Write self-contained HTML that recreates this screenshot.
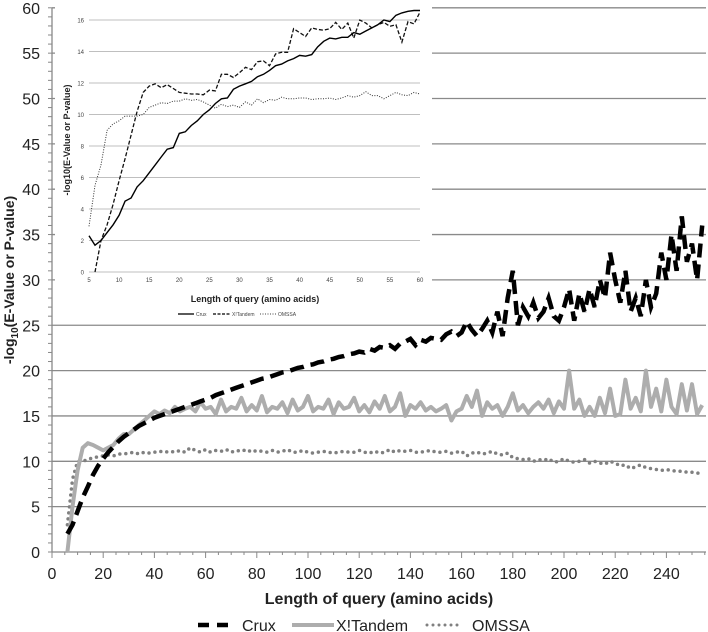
<!DOCTYPE html>
<html><head><meta charset="utf-8"><style>
html,body{margin:0;padding:0;background:#fff;}
svg{display:block;font-family:"Liberation Sans",sans-serif;}
</style></head><body>
<svg id="c" width="708" height="632" viewBox="0 0 708 632"></svg>
<script>
const mainX = [];
for (let i = 6; i <= 254; i += 2) mainX.push(i);
const cruxMain = [2,3,4.5,6,7.2,8.5,9.5,10.3,11,11.6,12.2,12.7,13.1,13.5,13.9,14.2,14.5,14.8,15,15.2,15.4,15.6,15.8,16,16.2,16.4,16.6,16.8,17,17.3,17.5,17.7,17.9,18.1,18.3,18.5,18.7,18.9,19.1,19.2,19.4,19.6,19.8,19.9,20.1,20.3,20.4,20.6,20.7,20.9,21,21.2,21.3,21.5,21.6,21.8,21.9,22.1,22,22.4,22.2,22.6,22.5,22.8,22.4,23,23.2,23.5,22.8,23.4,23.2,23.6,23.5,23.4,24,24.3,23.8,24.2,25.4,24.5,23.8,24.6,25.5,24.2,26.5,23.8,28,31,25,27,26,27.5,25.8,26.5,28,26,25.5,27,29,25.5,28.5,26.5,29,27,30,28,33,30,27.5,31,26.5,28,26,30,27,28.5,33,30,35,31,37,32,34,30,36];
const tandemMain = [0,5,9,11.5,12,11.8,11.5,11.2,11.5,11.8,12.5,13,13,13.5,14,14.5,15,15.5,15.2,15.6,15.3,16,15.5,15.8,16,15.5,16.5,15.8,16,15.2,16.8,15.5,16,15.8,17,15.5,16.2,15.6,17.2,15.4,16,15.8,16.5,15.3,16.8,15.6,16,17.2,15.5,16,15.8,16.8,15.2,16.5,15.8,16,17,15.5,16.2,15.4,16.6,15.8,17.2,15.5,16,17.5,15,16.2,15.8,16.5,15.6,16,15.5,15.8,16.2,14.5,15.5,15.8,17.2,16,17.8,15,16.5,15.8,16.2,15,16,17.5,15.6,16.2,15.3,16,16.5,15.8,16.8,15.3,16.6,15.8,20,15.8,16.8,15,16,15,17,15.3,18,15,15.2,19,15.8,17,15.5,20,16,18,15.5,19,16,15.2,18.5,15.6,18.5,15.2,16.2];
const omssaMain = [3,8,10,10,10.2,10.4,10.5,10.6,10.7,10.6,10.8,10.8,10.9,11,10.8,11,10.9,11,11.1,11,11.1,11,11.2,11,11.5,11.2,11,11.3,11,11.2,11.1,11.3,11,11.2,11.1,11.3,11,11.2,11.1,11,11.2,11,11.1,11.3,11,11,11.2,11,10.9,11,11.1,11,10.9,11,11.1,11,11,11.2,11,10.9,11.1,10.9,11,11.3,11,11.2,11.1,11.2,11,11,11.1,11.2,11,11,11.1,10.9,11,11.1,10.6,10.9,11,10.8,10.9,11.1,10.8,10.7,10.9,10.4,10.3,10.2,10.3,10,10.2,10.1,10.3,9.9,10,10.3,10,9.9,10,10.2,9.8,10,9.8,9.7,10,9.8,9.5,9.6,9.2,9.4,9.6,9.3,9.2,9.1,9,9.1,9,8.9,8.9,8.8,8.8,8.7,8.7];
const mainYTicks = [0,5,10,15,20,25,30,35,40,45,50,55,60];
const mainXTicks = [0,20,40,60,80,100,120,140,160,180,200,220,240];

const insetX = [];
for (let i = 5; i <= 60; i++) insetX.push(i);
const cruxInset = [2.3,1.7,2,2.5,3,3.6,4.5,4.7,5.4,5.8,6.3,6.8,7.3,7.8,7.9,8.8,8.9,9.3,9.6,10,10.3,10.7,11,11.05,11.6,11.8,11.95,12.1,12.4,12.55,12.8,13.1,13.2,13.4,13.55,13.75,13.7,13.8,14.3,14.65,14.85,14.8,14.9,14.9,15.2,15.1,15.3,15.5,15.7,16,15.9,16.3,16.45,16.55,16.6,16.6];
const tandemInset = [null,0,2,3,4.3,5.8,7.2,8.7,10.2,11.4,11.8,11.95,11.7,11.9,11.65,11.4,11.35,11.3,11.3,11.25,11.55,11.5,12.55,12.55,12.35,12.65,13,12.85,13.35,13.4,13.1,13.85,13.95,13.95,15.45,15.2,14.95,15.5,15.4,15.35,15.45,15.85,15.4,15.8,14.85,16,15.8,15.5,15.7,15.85,15.6,15.7,14.6,15.9,15.75,16.5];
const omssaInset = [2.9,5.5,6.8,9,9.4,9.6,9.9,9.9,9.9,10,10.45,10.6,10.75,10.7,10.85,10.85,11,10.9,10.95,10.8,10.6,10.4,10.65,10.5,10.6,10.45,10.8,10.6,11,10.75,10.95,10.9,11.1,11,11,11.05,11.05,10.95,11,11,11.05,10.95,11.05,11.2,11.1,11.2,11.45,11.2,11.2,11,11.2,11.4,11.25,11.2,11.4,11.3];
const insetYTicks = [0,2,4,6,8,10,12,14,16];
const insetXTicks = [5,10,15,20,25,30,35,40,45,50,55,60];

const NS = "http://www.w3.org/2000/svg";
const svg = document.getElementById('c');
function mk(tag, attrs, parent, text) {
  const e = document.createElementNS(NS, tag);
  for (const k in attrs) e.setAttribute(k, attrs[k]);
  if (text !== undefined) e.textContent = text;
  (parent || svg).appendChild(e);
  return e;
}
const mx = v => 52 + v * 2.56;
const my = v => 552 - v * 9.07;

const grid = mk('g', {});


mainYTicks.forEach(t => {
  if (t > 0) mk('line', {x1: 52, x2: 706, y1: my(t), y2: my(t), stroke: '#8a8a8a', 'stroke-width': 1.3}, grid);
  const lb = mk('text', {x: 40, y: my(t) + 6, 'text-anchor': 'end', 'font-size': 16, fill: '#222'}, null, String(t));
  
  
});
for (let v = 0; v <= 60; v++) mk('line', {x1: 48, x2: 52, y1: my(v), y2: my(v), stroke: '#888', 'stroke-width': 1}, grid);
mk('line', {x1: 52, x2: 52, y1: 8, y2: 552, stroke: '#888', 'stroke-width': 1.3}, grid);
mk('line', {x1: 52, x2: 706, y1: 552, y2: 552, stroke: '#888', 'stroke-width': 1.3}, grid);
for (let v = 0; v <= 255; v += 5) mk('line', {x1: mx(v), x2: mx(v), y1: 552, y2: v % 20 === 0 ? 558 : 555, stroke: '#888', 'stroke-width': 1}, grid);
mainXTicks.forEach(t => {
  const lb = mk('text', {x: mx(t), y: 579, 'text-anchor': 'middle', 'font-size': 16, fill: '#222'}, null, String(t));
  
  
});

function path(xs, ys, fx, fy) {
  let d = '', pen = false;
  xs.forEach((x, i) => {
    if (ys[i] === null) { pen = false; return; }
    d += (pen ? 'L' : 'M') + fx(x).toFixed(1) + ',' + fy(ys[i]).toFixed(1);
    pen = true;
  });
  return d;
}
const pO = mk('path', {d: path(mainX, omssaMain, mx, my), fill: 'none', stroke: '#808080', 'stroke-width': 3.5, 'stroke-linecap': 'round', 'stroke-dasharray': '0 6'});


const pT = mk('path', {d: path(mainX, tandemMain, mx, my), fill: 'none', stroke: '#adadad', 'stroke-width': 4, 'stroke-linejoin': 'round'});


const pC = mk('path', {d: path(mainX, cruxMain, mx, my), fill: 'none', stroke: '#000', 'stroke-width': 4.5, 'stroke-dasharray': '14 7'});



const yt = mk('text', {x: 0, y: 0, transform: 'translate(14,280) rotate(-90)', 'text-anchor': 'middle', 'font-size': 14, 'font-weight': 'bold', fill: '#222'});


yt.innerHTML = '-log<tspan font-size="10" dy="4">10</tspan><tspan dy="-4">(E-Value or P-value)</tspan>';
const xt = mk('text', {x: 379, y: 604, 'text-anchor': 'middle', 'font-size': 16, 'font-weight': 'bold', fill: '#222'}, null, 'Length of query (amino acids)');



const leg = mk('g', {});


mk('line', {x1: 198, x2: 234, y1: 625, y2: 625, stroke: '#000', 'stroke-width': 4.5, 'stroke-dasharray': '11 8'}, leg);
mk('text', {x: 242, y: 631, 'font-size': 16, fill: '#222'}, leg, 'Crux');
mk('line', {x1: 292, x2: 334, y1: 625, y2: 625, stroke: '#adadad', 'stroke-width': 4}, leg);
mk('text', {x: 336, y: 631, 'font-size': 16, fill: '#222'}, leg, 'X!Tandem');
mk('line', {x1: 427, x2: 463, y1: 625, y2: 625, stroke: '#808080', 'stroke-width': 3, 'stroke-linecap': 'round', 'stroke-dasharray': '0 6'}, leg);
mk('text', {x: 472, y: 631, 'font-size': 16, fill: '#222'}, leg, 'OMSSA');

const ins = mk('g', {});


mk('rect', {x: 55, y: 0, width: 377, height: 320, fill: '#fff'}, ins);
const ix = v => 89 + (v - 5) * 6.018;
const iy = v => 272 - v * 15.75;
insetYTicks.forEach(t => {
  if (t > 0) mk('line', {x1: 89, x2: 420, y1: iy(t), y2: iy(t), stroke: '#aaa', 'stroke-width': 0.8}, ins);
  mk('text', {x: 84, y: iy(t) + 2.5, 'text-anchor': 'end', 'font-size': 6, fill: '#444'}, ins, String(t));
});
mk('line', {x1: 89, x2: 420, y1: 272, y2: 272, stroke: '#aaa', 'stroke-width': 0.8}, ins);
insetXTicks.forEach(t => {
  mk('text', {x: ix(t), y: 282, 'text-anchor': 'middle', 'font-size': 6, fill: '#444'}, ins, String(t));
});
mk('path', {d: path(insetX, omssaInset, ix, iy), fill: 'none', stroke: '#333', 'stroke-width': 1, 'stroke-dasharray': '1 1.5'}, ins);
mk('path', {d: path(insetX, tandemInset, ix, iy), fill: 'none', stroke: '#111', 'stroke-width': 1.3, 'stroke-dasharray': '4 2'}, ins);
mk('path', {d: path(insetX, cruxInset, ix, iy), fill: 'none', stroke: '#000', 'stroke-width': 1.4}, ins);
mk('text', {x: 0, y: 0, transform: 'translate(70,140) rotate(-90)', 'text-anchor': 'middle', 'font-size': 9, 'font-weight': 'bold', fill: '#222'}, ins, '-log10(E-Value or P-value)');
mk('text', {x: 255, y: 302, 'text-anchor': 'middle', 'font-size': 9, 'font-weight': 'bold', fill: '#222'}, ins, 'Length of query (amino acids)');
mk('line', {x1: 178, x2: 194, y1: 314, y2: 314, stroke: '#000', 'stroke-width': 1.3}, ins);
mk('text', {x: 196, y: 316, 'font-size': 5, fill: '#444'}, ins, 'Crux');
mk('line', {x1: 213, x2: 230, y1: 314, y2: 314, stroke: '#000', 'stroke-width': 1.2, 'stroke-dasharray': '3 1.5'}, ins);
mk('text', {x: 232, y: 316, 'font-size': 5, fill: '#444'}, ins, 'X!Tandem');
mk('line', {x1: 260, x2: 276, y1: 314, y2: 314, stroke: '#444', 'stroke-width': 1, 'stroke-dasharray': '1 1.5'}, ins);
mk('text', {x: 278, y: 316, 'font-size': 5, fill: '#444'}, ins, 'OMSSA');
</script>
</body></html>
